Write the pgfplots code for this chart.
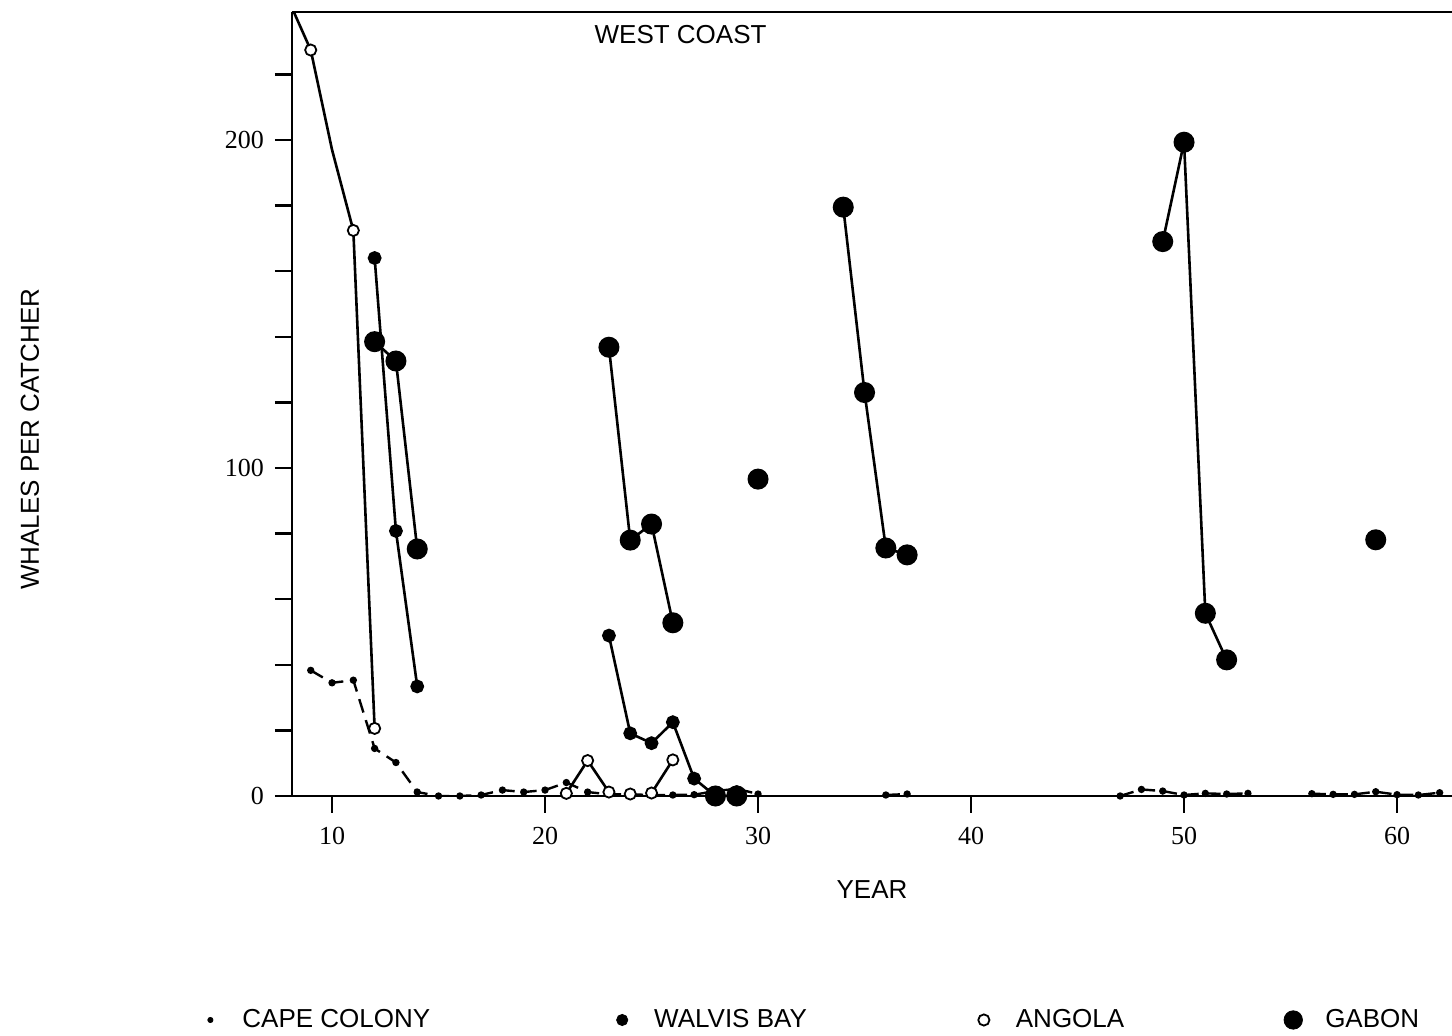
\documentclass[border=0pt]{standalone}
\usepackage{fontspec}
\setmainfont{Liberation Serif}
\setsansfont{Liberation Sans}
\usepackage{pgfplots}
\usepackage{pgfplotstable}
\pgfplotsset{compat=1.18}

% whales per catcher, west coast stations
\pgfplotstableread{
year val
9 38.3
10 34.5
11 35.3
12 14.5
13 10.2
14 1.2
15 0
16 0
17 0.3
18 1.8
19 1.2
20 1.8
21 4.1
22 1.2
23 0.5
24 0.5
25 0.3
26 0.3
27 0.4
28 1.5
29 2.2
30 0.6
nan nan
36 0.3
37 0.6
nan nan
47 0
48 2
49 1.5
50 0.3
51 0.8
52 0.6
53 0.8
nan nan
56 0.7
57 0.5
58 0.5
59 1.3
60 0.4
61 0.3
62 1
}\capecolony

\pgfplotstableread{
year val
12 164
13 80.8
14 33.4
nan nan
23 48.9
24 19.1
25 16.1
26 22.5
27 5.3
28 0
}\walvis

\pgfplotstableread{
year val
8 242
9 227.4
10 197
11 172.4
12 20.6
nan nan
21 0.8
22 10.8
23 1.2
nan nan
25 0.9
26 11
}\angolaline

\pgfplotstableread{
year val
9 227.4
11 172.4
12 20.6
21 0.8
22 10.8
23 1.2
24 0.6
25 0.9
26 11
}\angolamarks

\pgfplotstableread{
year val
12 138.5
13 132.6
14 75.3
nan nan
23 136.8
24 78
25 82.9
26 52.8
nan nan
28 0
29 0
nan nan
30 96.6
nan nan
34 179.5
35 123
36 75.6
37 73.5
nan nan
49 169
50 199.3
51 55.7
52 41.5
nan nan
59 78.1
}\gabon

\begin{document}
\begin{tikzpicture}
\begin{axis}[
    scale only axis,
    width=580pt, height=392pt,
    xmin=8.12, xmax=62.58,
    ymin=0, ymax=239,
    axis x line=bottom, axis y line=left,
    axis line style={-, line width=1.4pt},
    xtick={10,20,...,60},
    ytick={0,100,200},
    minor ytick={20,40,60,80,120,140,160,180,220},
    tick align=outside,
    major tick length=8.5pt, minor tick length=8.5pt,
    every tick/.style={black, line width=1.2pt},
    /pgf/number format/assume math mode=true,
    tick label style={font=\fontsize{13}{13}\selectfont},
    xticklabel style={yshift=-3.5pt},
    yticklabel style={xshift=-2pt},
    unbounded coords=jump,
    xlabel={YEAR},
    ylabel={WHALES PER CATCHER},
    every axis x label/.style={at={(axis description cs:0.5,0)}, anchor=center, yshift=-47pt, font=\sffamily\fontsize{13}{13}\selectfont},
    every axis y label/.style={at={(axis description cs:0,0.455)}, anchor=center, xshift=-131pt, rotate=90, font=\sffamily\fontsize{13}{13}\selectfont},
    title={WEST COAST},
    every axis title/.style={at={(axis description cs:0.335,1)}, anchor=center, yshift=-11.5pt, font=\sffamily\fontsize{13}{13}\selectfont},
    legend columns=4,
    legend cell align=left,
    legend image code/.code={\path[draw=none, fill=none, use as bounding box] (-3pt,-3pt) rectangle (3pt,3pt); \draw[#1] plot coordinates {(0pt,0pt)};},
    legend style={at={(axis description cs:0,0)}, anchor=west, xshift=-44pt, yshift=-112pt,
        draw=none, fill=none, inner sep=0pt,
        font=\sffamily\fontsize{13}{13}\selectfont,
        /tikz/every odd column/.append style={column sep=11pt},
        /tikz/column 2/.append style={column sep=91pt},
        /tikz/column 4/.append style={column sep=83.5pt},
        /tikz/column 6/.append style={column sep=79.5pt}},
]
% legend images first
\addlegendimage{only marks, mark=*, mark size=1.3pt, black}
\addlegendentry{CAPE COLONY}
\addlegendimage{only marks, mark=*, mark size=2.8pt, black}
\addlegendentry{WALVIS BAY}
\addlegendimage{only marks, mark=o, mark size=2.8pt, black, mark options={line width=0.9pt}}
\addlegendentry{ANGOLA}
\addlegendimage{only marks, mark=*, mark size=4.6pt, black}
\addlegendentry{GABON}

\addplot[black, line width=1.2pt, dash pattern=on 7pt off 4pt, mark=*, mark size=1.2pt, mark options={solid}, forget plot] table[x=year, y=val] {\capecolony};
\addplot[black, line width=1.3pt, mark=*, mark size=2.8pt, forget plot] table[x=year, y=val] {\walvis};
\addplot[black, line width=1.3pt, forget plot] table[x=year, y=val] {\angolaline};
\addplot[black, only marks, mark=*, mark size=2.8pt, mark options={fill=white, line width=0.9pt}, forget plot] table[x=year, y=val] {\angolamarks};
\addplot[black, line width=1.3pt, mark=*, mark size=4.6pt, forget plot] table[x=year, y=val] {\gabon};
\end{axis}
\draw[line width=1.4pt] (current axis.north west) -- (current axis.north east);
\pgfresetboundingbox
\path ([shift={(-146pt,-120pt)}]current axis.south west) rectangle ([yshift=6pt]current axis.north east);
\end{tikzpicture}
\end{document}
